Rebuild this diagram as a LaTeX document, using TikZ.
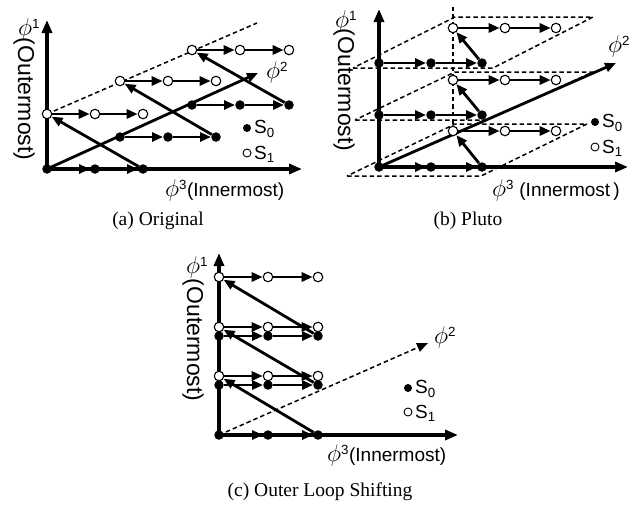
\documentclass[tikz,border=0pt]{standalone}
\usepackage{fontspec}
\setmainfont{Liberation Serif}
\setsansfont{Liberation Sans}
\usepackage{graphicx}
\usepackage{tikz}
\usetikzlibrary{arrows.meta}

\pgfdeclarelayer{bg}
\pgfsetlayers{bg,main}
\newcommand{\ph}{\scalebox{1.4}{$\phi$}}

\begin{document}
\begin{tikzpicture}[
  x=1pt, y=-1pt,
  bdot/.style={circle, fill=black, inner sep=0pt, minimum size=9.5pt},
  wdot/.style={circle, draw=black, fill=white, line width=1.1pt, inner sep=0pt, minimum size=9.5pt},
  keydot/.style={circle, inner sep=0pt, minimum size=8pt},
  arrow/.style={-{Triangle[length=11pt,width=9pt]}, line width=2.8pt},
  axis/.style={-{Triangle[length=13pt,width=10pt]}, line width=3.2pt},
  guide/.style={dash pattern=on 4.5pt off 3pt, line width=1.5pt},
  lbl/.style={font=\sffamily\fontsize{19}{21}\selectfont, inner sep=0pt},
  outer/.style={font=\sffamily\fontsize{23}{25}\selectfont, inner sep=0pt, rotate=-90},
  caption/.style={font=\fontsize{19.5}{22}\selectfont, inner sep=0pt}
]
\useasboundingbox (0,0) rectangle (639,504);

% (a) Original
\node[bdot] (ab00) at (47,169) {};
\node[bdot] (ab01) at (95,169) {};
\node[bdot] (ab02) at (143,169) {};
\node[bdot] (ab10) at (120,137) {};
\node[bdot] (ab11) at (168,137) {};
\node[bdot] (ab12) at (216,137) {};
\node[bdot] (ab20) at (192,105) {};
\node[bdot] (ab21) at (240,105) {};
\node[bdot] (ab22) at (289,105) {};
\node[wdot] (aw00) at (47,114) {};
\node[wdot] (aw01) at (95,114) {};
\node[wdot] (aw02) at (143,114) {};
\node[wdot] (aw10) at (120,81) {};
\node[wdot] (aw11) at (168,81) {};
\node[wdot] (aw12) at (216,81) {};
\node[wdot] (aw20) at (192,50) {};
\node[wdot] (aw21) at (240,50) {};
\node[wdot] (aw22) at (289,50) {};
\coordinate (a-top) at (47,20);
\coordinate (a-right) at (302,169);
\coordinate (a-phi2) at (258,73);
\coordinate (a-diag) at (257,23);

\node[lbl] (a-l1) at (29,29) {\ph\textsuperscript{1}};
\node[outer] (a-out) at (24,99) {(Outermost)};
\node[lbl, anchor=west] (a-l3) at (165,190) {\ph\textsuperscript{3}(Innermost)};
\node[lbl] (a-l2) at (277,72) {\ph\textsuperscript{2}};
\node[keydot, fill=black] (a-k0) at (247,128) {};
\node[keydot, draw=black, fill=white, line width=0.9pt] (a-k1) at (247,153) {};
\node[lbl, anchor=west] (a-s0) at (254,129) {S\textsubscript{0}};
\node[lbl, anchor=west] (a-s1) at (254,154) {S\textsubscript{1}};
\node[caption] (a-cap) at (158,221) {(a) Original};

\begin{pgfonlayer}{bg}
\draw[axis] (ab00.center) -- (a-top);
\draw[axis] (ab00.center) -- (a-right);
\draw[arrow] (ab00.center) -- (a-phi2);
\draw[guide] (aw00.center) -- (a-diag);
\end{pgfonlayer}

\draw[arrow] (ab00) -- (ab01);
\draw[arrow] (ab01) -- (ab02);
\draw[arrow] (ab10) -- (ab11);
\draw[arrow] (ab11) -- (ab12);
\draw[arrow] (ab20) -- (ab21);
\draw[arrow] (ab21) -- (ab22);
\draw[arrow] (aw00) -- (aw01);
\draw[arrow] (aw01) -- (aw02);
\draw[arrow] (aw10) -- (aw11);
\draw[arrow] (aw11) -- (aw12);
\draw[arrow] (aw20) -- (aw21);
\draw[arrow] (aw21) -- (aw22);
\draw[arrow] (ab02) -- (aw00);
\draw[arrow] (ab12) -- (aw10);
\draw[arrow] (ab22) -- (aw20);

% (b) Pluto
\node[bdot] (bb00) at (379,167) {};
\node[bdot] (bb01) at (431,167) {};
\node[bdot] (bb02) at (482,167) {};
\node[bdot] (bb10) at (379,115) {};
\node[bdot] (bb11) at (431,115) {};
\node[bdot] (bb12) at (482,115) {};
\node[bdot] (bb20) at (379,63) {};
\node[bdot] (bb21) at (431,63) {};
\node[bdot] (bb22) at (482,63) {};
\node[wdot] (bw00) at (453,131) {};
\node[wdot] (bw01) at (505,131) {};
\node[wdot] (bw02) at (556,131) {};
\node[wdot] (bw10) at (453,80) {};
\node[wdot] (bw11) at (505,80) {};
\node[wdot] (bw12) at (556,80) {};
\node[wdot] (bw20) at (453,28) {};
\node[wdot] (bw21) at (505,28) {};
\node[wdot] (bw22) at (556,28) {};
\coordinate (b-top) at (379,9);
\coordinate (b-right) at (628,167);
\coordinate (b-phi2) at (616,63);
\coordinate (b-vert) at (453,5);

\node[lbl] (b-l1) at (346,21) {\ph\textsuperscript{1}};
\node[outer] (b-out) at (344,90) {(Outermost)};
\node[lbl, anchor=west] (b-l3) at (492,190) {\ph\textsuperscript{3} (Innermost\,)};
\node[lbl] (b-l2) at (619,46) {\ph\textsuperscript{2}};
\node[keydot, fill=black] (b-k0) at (595,122) {};
\node[keydot, draw=black, fill=white, line width=0.9pt] (b-k1) at (595,147) {};
\node[lbl, anchor=west] (b-s0) at (602,123) {S\textsubscript{0}};
\node[lbl, anchor=west] (b-s1) at (602,148) {S\textsubscript{1}};
\node[caption] (b-cap) at (468,221) {(b) Pluto};

\begin{pgfonlayer}{bg}
\draw[guide] (347,176) -- (481,176) -- (587,124) -- (455,124) -- cycle;
\draw[guide] (355,120) -- (487,120) -- (593,72) -- (455,72) -- cycle;
\draw[guide] (353,68) -- (493,68) -- (593,17) -- (455,17) -- cycle;
\draw[guide] (bw00.center) -- (b-vert);
\draw[axis] (bb00.center) -- (b-top);
\draw[axis] (bb00.center) -- (b-right);
\draw[arrow] (bb00.center) -- (b-phi2);
\end{pgfonlayer}

\draw[arrow] (bb00) -- (bb01);
\draw[arrow] (bb01) -- (bb02);
\draw[arrow] (bb10) -- (bb11);
\draw[arrow] (bb11) -- (bb12);
\draw[arrow] (bb20) -- (bb21);
\draw[arrow] (bb21) -- (bb22);
\draw[arrow] (bw00) -- (bw01);
\draw[arrow] (bw01) -- (bw02);
\draw[arrow] (bw10) -- (bw11);
\draw[arrow] (bw11) -- (bw12);
\draw[arrow] (bw20) -- (bw21);
\draw[arrow] (bw21) -- (bw22);
\draw[arrow] (bb02) -- (bw00);
\draw[arrow] (bb12) -- (bw10);
\draw[arrow] (bb22) -- (bw20);

% (c) Outer Loop Shifting
\node[bdot] (cb00) at (219,435) {};
\node[bdot] (cb01) at (268,435) {};
\node[bdot] (cb02) at (318,435) {};
\node[bdot] (cb10) at (219,385) {};
\node[bdot] (cb11) at (268,385) {};
\node[bdot] (cb12) at (318,385) {};
\node[bdot] (cb20) at (219,336) {};
\node[bdot] (cb21) at (268,336) {};
\node[bdot] (cb22) at (318,336) {};
\node[wdot] (cw00) at (219,376) {};
\node[wdot] (cw01) at (268,376) {};
\node[wdot] (cw02) at (318,376) {};
\node[wdot] (cw10) at (219,327) {};
\node[wdot] (cw11) at (268,327) {};
\node[wdot] (cw12) at (318,327) {};
\node[wdot] (cw20) at (219,277) {};
\node[wdot] (cw21) at (268,277) {};
\node[wdot] (cw22) at (318,277) {};
\coordinate (c-top) at (219,253);
\coordinate (c-right) at (458,435);
\coordinate (c-phi2) at (428,343);

\node[lbl] (c-l1) at (197,267) {\ph\textsuperscript{1}};
\node[outer] (c-out) at (193,340) {(Outermost)};
\node[lbl, anchor=west] (c-l3) at (327,455) {\ph\textsuperscript{3}(Innermost)};
\node[lbl] (c-l2) at (445,337) {\ph\textsuperscript{2}};
\node[keydot, fill=black] (c-k0) at (408,388) {};
\node[keydot, draw=black, fill=white, line width=0.9pt] (c-k1) at (408,412) {};
\node[lbl, anchor=west] (c-s0) at (415,389) {S\textsubscript{0}};
\node[lbl, anchor=west] (c-s1) at (415,413) {S\textsubscript{1}};
\node[caption] (c-cap) at (320,492) {(c) Outer Loop Shifting};

\begin{pgfonlayer}{bg}
\draw[axis] (cb00.center) -- (c-top);
\draw[axis] (cb00.center) -- (c-right);
\draw[guide, -{Triangle[length=11pt,width=9pt]}] (cb00.center) -- (c-phi2);
\end{pgfonlayer}

\draw[arrow] (cb00) -- (cb01);
\draw[arrow] (cb01) -- (cb02);
\draw[arrow] (cb10) -- (cb11);
\draw[arrow] (cb11) -- (cb12);
\draw[arrow] (cb20) -- (cb21);
\draw[arrow] (cb21) -- (cb22);
\draw[arrow] (cw00) -- (cw01);
\draw[arrow] (cw01) -- (cw02);
\draw[arrow] (cw10) -- (cw11);
\draw[arrow] (cw11) -- (cw12);
\draw[arrow] (cw20) -- (cw21);
\draw[arrow] (cw21) -- (cw22);
\draw[arrow] (cb02) -- (cw00);
\draw[arrow] (cb12) -- (cw10);
\draw[arrow] (cb22) -- (cw20);
\end{tikzpicture}
\end{document}
